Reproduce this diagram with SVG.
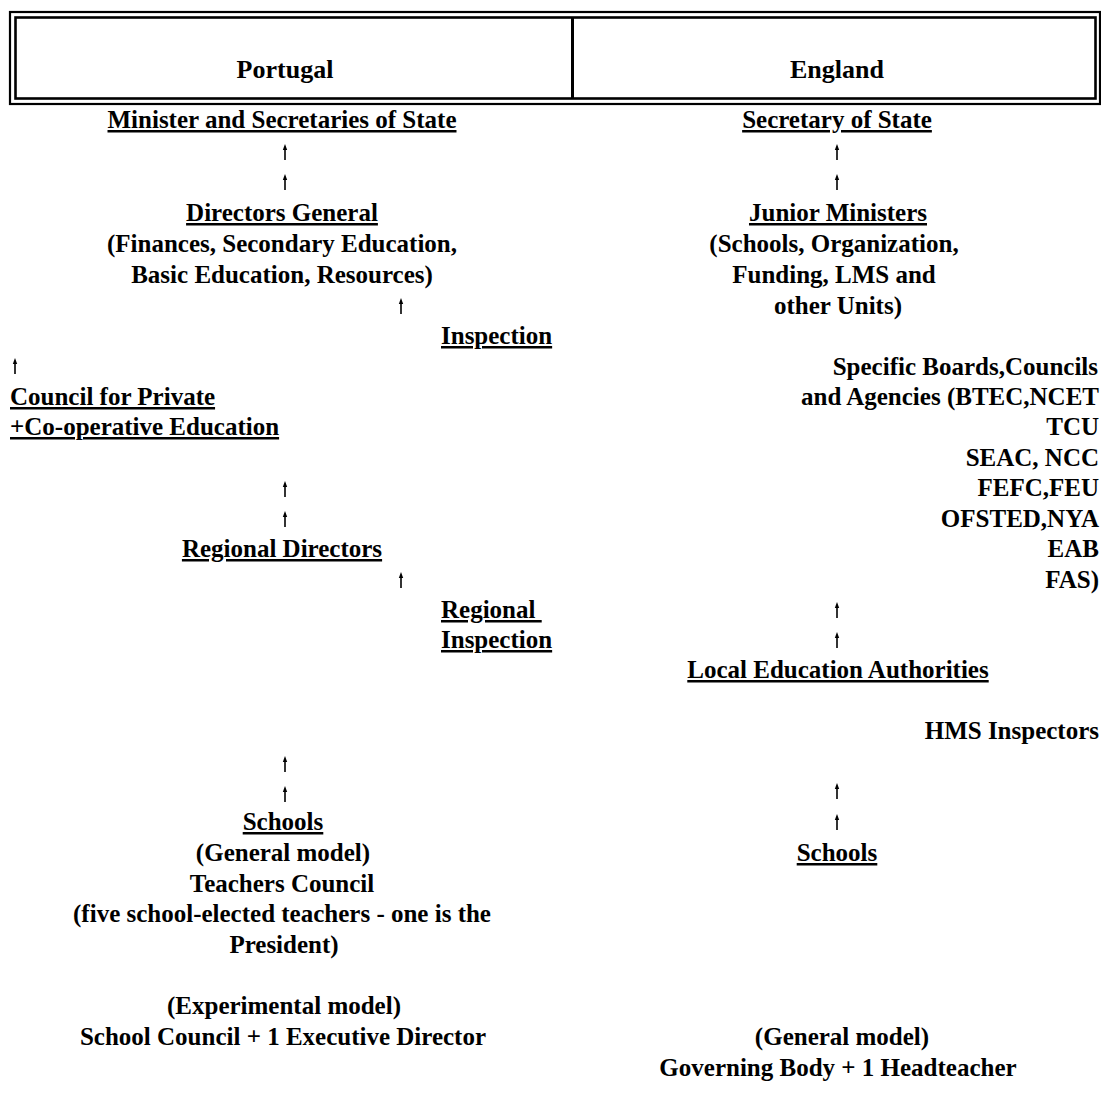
<svg xmlns="http://www.w3.org/2000/svg" xmlns:xlink="http://www.w3.org/1999/xlink" width="1101" height="1101" viewBox="0 0 1101 1101">
<style>
text{font-family:"Liberation Serif","Times New Roman",serif;font-weight:bold;font-size:25px;fill:#000}
.c{text-anchor:middle}
.e{text-anchor:end}
.u{text-decoration:underline}
.h{font-size:26px}
.frame{fill:none;stroke:#000}
</style>
<defs>
<g id="arr"><line x1="0" y1="-3" x2="0" y2="8" stroke="#000" stroke-width="1.6"/><path d="M-2.2,-2 L0,-8 L2.2,-2 Z" fill="#000"/></g>
</defs>
<rect width="1101" height="1101" fill="#fff"/>
<g id="header">
<rect class="frame" x="10" y="12" width="1090" height="92" stroke-width="2.2"/>
<rect class="frame" x="15.5" y="17.5" width="1080" height="81" stroke-width="2.6"/>
<line x1="572.5" y1="17" x2="572.5" y2="99" stroke="#000" stroke-width="3"/>
<text class="c h" x="285" y="78">Portugal</text>
<text class="c h" x="837" y="78">England</text>
</g>
<g id="connectors">
<use xlink:href="#arr" x="285" y="152"/>
<use xlink:href="#arr" x="285" y="182"/>
<use xlink:href="#arr" x="401" y="306"/>
<use xlink:href="#arr" x="15" y="366"/>
<use xlink:href="#arr" x="285" y="489"/>
<use xlink:href="#arr" x="285" y="519"/>
<use xlink:href="#arr" x="401" y="580"/>
<use xlink:href="#arr" x="285" y="764"/>
<use xlink:href="#arr" x="285" y="794"/>
<use xlink:href="#arr" x="837" y="152"/>
<use xlink:href="#arr" x="837" y="182"/>
<use xlink:href="#arr" x="837" y="610"/>
<use xlink:href="#arr" x="837" y="640"/>
<use xlink:href="#arr" x="837" y="791"/>
<use xlink:href="#arr" x="837" y="822"/>
</g>
<g id="pt-minister"><text class="c u" x="282" y="128">Minister and Secretaries of State</text></g>
<g id="pt-directors-general">
<text class="c u" x="282" y="221">Directors General</text>
<text class="c" x="282" y="252">(Finances, Secondary Education,</text>
<text class="c" x="282" y="283">Basic Education, Resources)</text>
</g>
<g id="pt-inspection"><text class="u" x="441" y="344">Inspection</text></g>
<g id="pt-council"><text class="u" x="10" y="405">Council for Private</text><text class="u" x="10" y="435">+Co-operative Education</text></g>
<g id="pt-regional-directors"><text class="c u" x="282" y="557">Regional Directors</text></g>
<g id="pt-regional-inspection"><text class="u" x="441" y="618" xml:space="preserve">Regional </text><text class="u" x="441" y="648">Inspection</text></g>
<g id="pt-schools">
<text class="c u" x="283" y="830">Schools</text>
<text class="c" x="283" y="861">(General model)</text>
<text class="c" x="282" y="892">Teachers Council</text>
<text class="c" x="282" y="922">(five school-elected teachers - one is the</text>
<text class="c" x="284" y="953">President)</text>
<text class="c" x="284" y="1014">(Experimental model)</text>
<text class="c" x="283" y="1045">School Council + 1 Executive Director</text>
</g>
<g id="en-secretary"><text class="c u" x="837" y="128">Secretary of State</text></g>
<g id="en-junior">
<text class="c u" x="838" y="221">Junior Ministers</text>
<text class="c" x="834" y="252">(Schools, Organization,</text>
<text class="c" x="834" y="283">Funding, LMS and</text>
<text class="c" x="838" y="314">other Units)</text>
</g>
<g id="en-boards">
<text class="e" x="1098" y="375">Specific Boards,Councils</text>
<text class="e" x="1099" y="405">and Agencies (BTEC,NCET</text>
<text class="e" x="1099" y="435">TCU</text>
<text class="e" x="1099" y="466">SEAC, NCC</text>
<text class="e" x="1099" y="496">FEFC,FEU</text>
<text class="e" x="1099" y="527">OFSTED,NYA</text>
<text class="e" x="1099" y="557">EAB</text>
<text class="e" x="1099" y="588">FAS)</text>
</g>
<g id="en-lea"><text class="c u" x="838" y="678">Local Education Authorities</text></g>
<g id="en-hms"><text class="e" x="1099" y="739">HMS Inspectors</text></g>
<g id="en-schools">
<text class="c u" x="837" y="861">Schools</text>
<text class="c" x="842" y="1045">(General model)</text>
<text class="c" x="838" y="1076">Governing Body + 1 Headteacher</text>
</g>
</svg>
